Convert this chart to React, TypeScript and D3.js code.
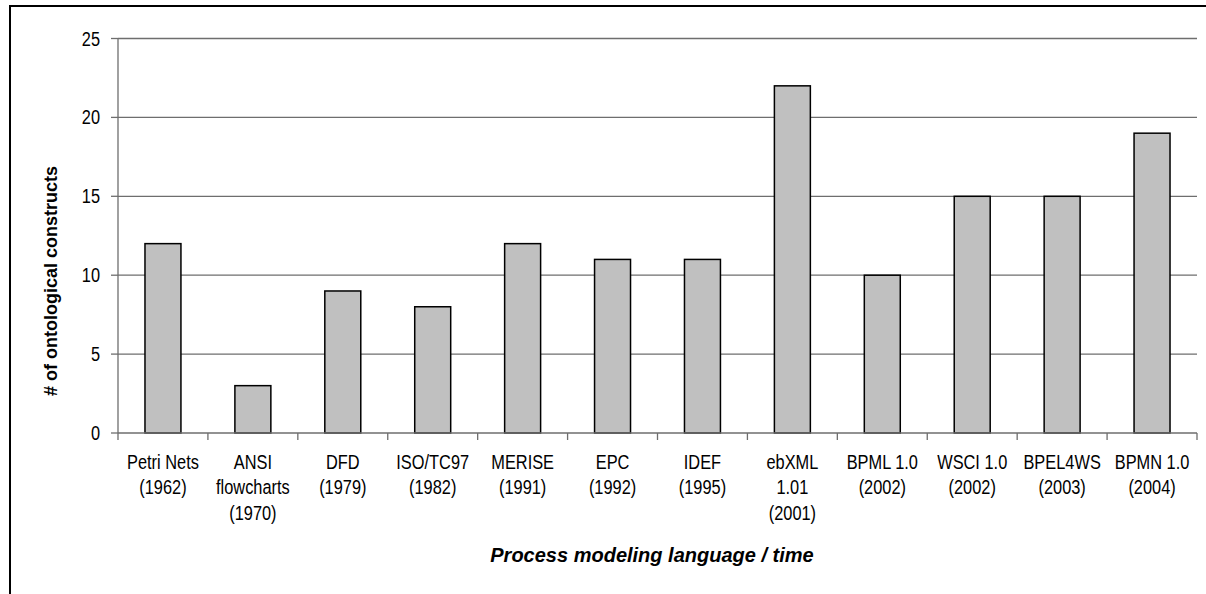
import React from "react";
import * as d3 from "d3";

const categories: string[][] = [
  ["Petri Nets", "(1962)"],
  ["ANSI", "flowcharts", "(1970)"],
  ["DFD", "(1979)"],
  ["ISO/TC97", "(1982)"],
  ["MERISE", "(1991)"],
  ["EPC", "(1992)"],
  ["IDEF", "(1995)"],
  ["ebXML", "1.01", "(2001)"],
  ["BPML 1.0", "(2002)"],
  ["WSCI 1.0", "(2002)"],
  ["BPEL4WS", "(2003)"],
  ["BPMN 1.0", "(2004)"],
];
const values: number[] = [12, 3, 9, 8, 12, 11, 11, 22, 10, 15, 15, 19];
const yTicks: number[] = [0, 5, 10, 15, 20, 25];
const yTitle = "# of ontological constructs";
const xTitle = "Process modeling language / time";

const W = 1206;
const H = 594;
const left = 118;
const right = 1197;
const top = 38.5;
const bottom = 433;
const gridColor = "#6e6e6e";

export default function App() {
  const keys = categories.map((c) => c.join(" "));
  const x = d3.scaleBand<string>().domain(keys).range([left, right]).paddingInner(0).paddingOuter(0);
  const y = d3.scaleLinear().domain([0, 25]).range([bottom, top]);
  const bw = x.bandwidth() / 2.5;
  const font = "'Liberation Sans', Arial, sans-serif";
  return (
    <svg
      width={W}
      height={H}
      style={{ position: "absolute", left: 0, top: 0, background: "#fff" }}
      fontFamily={font}
    >
      <rect x={10} y={6} width={1220} height={620} fill="#fff" stroke="#000" strokeWidth={2} />
      {yTicks.filter((t) => t > 0).map((t) => (
        <line key={"g" + t} x1={left} x2={right} y1={y(t)} y2={y(t)} stroke={gridColor} strokeWidth={1.3} />
      ))}
      <line x1={left} x2={left} y1={top} y2={bottom} stroke={gridColor} strokeWidth={1.3} />
      {yTicks.map((t) => (
        <g key={"yt" + t}>
          <line x1={left - 7} x2={left} y1={y(t)} y2={y(t)} stroke={gridColor} strokeWidth={1.3} />
          <text
            transform={`translate(100, ${y(t)}) scale(0.84, 1)`}
            textAnchor="end"
            dy="0.36em"
            fontSize={19.5}
            fill="#000"
          >
            {t}
          </text>
        </g>
      ))}
      {values.map((v, i) => {
        const cx = (x(keys[i]) as number) + x.bandwidth() / 2;
        return (
          <rect
            key={"b" + i}
            x={cx - bw / 2}
            y={y(v)}
            width={bw}
            height={y(0) - y(v)}
            fill="#c0c0c0"
            stroke="#000"
            strokeWidth={1.5}
          />
        );
      })}
      <line x1={left} x2={right} y1={bottom} y2={bottom} stroke={gridColor} strokeWidth={1.3} />
      {keys.map((k, i) => (
        <line
          key={"xt" + i}
          x1={x(k) as number}
          x2={x(k) as number}
          y1={bottom}
          y2={bottom + 7}
          stroke={gridColor}
          strokeWidth={1.3}
        />
      ))}
      <line x1={right} x2={right} y1={bottom} y2={bottom + 7} stroke={gridColor} strokeWidth={1.3} />
      {categories.map((lines, i) => {
        const cx = (x(keys[i]) as number) + x.bandwidth() / 2;
        return (
          <g key={"xl" + i} transform={`translate(${cx}, 0) scale(0.84, 1)`}>
            {lines.map((ln, j) => (
              <text key={j} x={0} y={469 + j * 25.5} textAnchor="middle" fontSize={19.5} fill="#000">
                {ln}
              </text>
            ))}
          </g>
        );
      })}
      <text
        transform={`translate(57, 281) rotate(-90)`}
        textAnchor="middle"
        fontSize={18}
        fontWeight="bold"
        fill="#000"
      >
        {yTitle}
      </text>
      <text x={652} y={562} textAnchor="middle" fontSize={20} fontWeight="bold" fontStyle="italic" fill="#000">
        {xTitle}
      </text>
    </svg>
  );
}
